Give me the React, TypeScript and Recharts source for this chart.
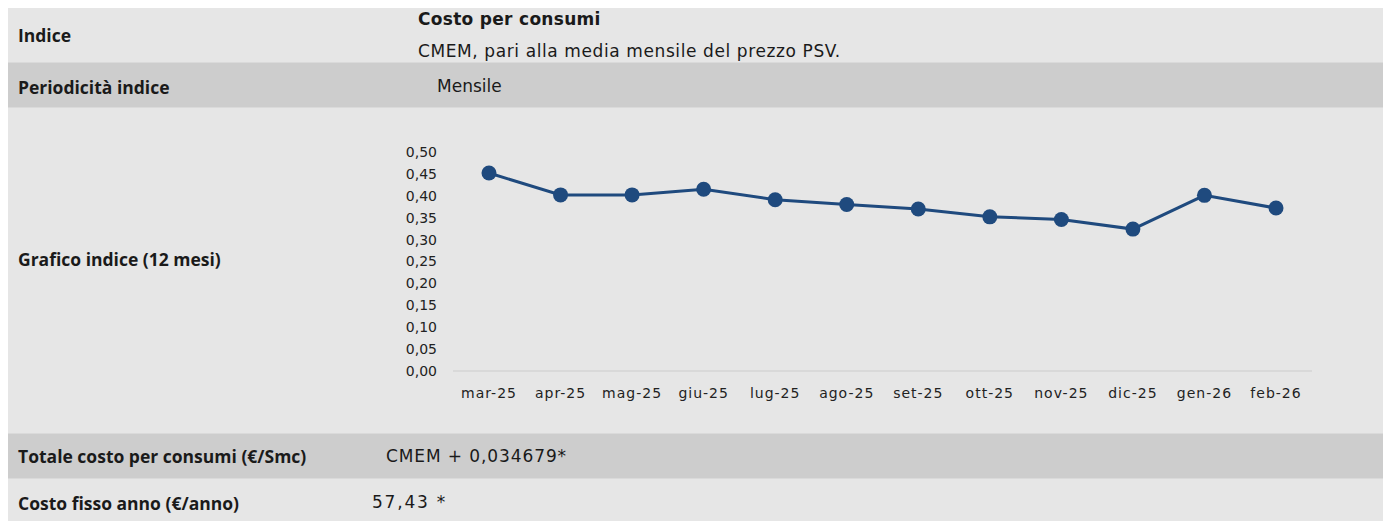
import { LineChart, Line, XAxis, YAxis } from 'recharts'

const months = ['mar-25', 'apr-25', 'mag-25', 'giu-25', 'lug-25', 'ago-25', 'set-25', 'ott-25', 'nov-25', 'dic-25', 'gen-26', 'feb-26']
const cmem = [0.452, 0.402, 0.402, 0.415, 0.391, 0.38, 0.37, 0.352, 0.346, 0.324, 0.401, 0.372]
const yTicks = [0, 0.05, 0.1, 0.15, 0.2, 0.25, 0.3, 0.35, 0.4, 0.45, 0.5]

const data = months.map((m, i) => ({ name: m, value: cmem[i] }))

const LIGHT = '#e6e6e6'
const DARK = '#cdcdcd'
const labelFont = '"Open Sans", sans-serif'
const valueFont = '"DejaVu Sans", sans-serif'
const yTickStyle = { fill: '#222', fontSize: 14, fontFamily: valueFont }
const xTickStyle = { ...yTickStyle, letterSpacing: 1 }

const fmt = (v: number) => v.toFixed(2).replace('.', ',')

function Row({ bg, height, label, labelShift = 0, children }: { bg: string; height: number; label: string; labelShift?: number; children?: any }) {
  return (
    <div style={{ position: 'relative', background: bg, height, borderBottom: '1px solid #dadada', boxSizing: 'border-box' }}>
      <div
        style={{
          position: 'absolute',
          left: 10,
          top: labelShift,
          height: '100%',
          display: 'flex',
          alignItems: 'center',
          fontFamily: labelFont,
          fontWeight: 700,
          fontSize: 17.5,
          color: '#1a1a1a',
        }}
      >
        {label}
      </div>
      {children}
    </div>
  )
}

export default function App() {
  const valueStyle = {
    position: 'absolute' as const,
    fontFamily: valueFont,
    fontSize: 17,
    letterSpacing: 0.6,
    color: '#1a1a1a',
    whiteSpace: 'nowrap' as const,
  }
  return (
    <div style={{ width: 1383, marginTop: -1 }}>
      <Row bg={LIGHT} height={56} label="Indice">
        <div style={{ ...valueStyle, left: 410, top: 2, fontWeight: 700, letterSpacing: 0.3 }}>Costo per consumi</div>
        <div style={{ ...valueStyle, left: 410, top: 34 }}>CMEM, pari alla media mensile del prezzo PSV.</div>
      </Row>
      <Row bg={DARK} height={45} label="Periodicità indice" labelShift={2}>
        <div style={{ ...valueStyle, left: 429, top: 13, letterSpacing: 0 }}>Mensile</div>
      </Row>
      <Row bg={LIGHT} height={326} label="Grafico indice (12 mesi)" labelShift={-12}>
        <div style={{ position: 'absolute', left: 352, top: 12 }}>
          <LineChart width={970} height={300} data={data} margin={{ top: 32, right: 18, left: 0, bottom: 0 }}>
            <XAxis
              dataKey="name"
              axisLine={{ stroke: '#d9d9d9', strokeWidth: 2 }}
              tickLine={false}
              tick={xTickStyle}
              tickMargin={11}
              interval={0}
              height={49}
              padding={{ left: 36, right: 36 }}
            />
            <YAxis
              domain={[0, 0.5]}
              ticks={yTicks}
              tickFormatter={fmt}
              axisLine={false}
              tickLine={false}
              tick={yTickStyle}
              tickMargin={10}
              width={93}
              interval={0}
            />
            <Line
              type="linear"
              dataKey="value"
              stroke="#1f4a7e"
              strokeWidth={3}
              dot={{ r: 7.5, fill: '#1f4a7e', stroke: '#1f4a7e', strokeWidth: 0 }}
              isAnimationActive={false}
            />
          </LineChart>
        </div>
      </Row>
      <Row bg={DARK} height={45} label="Totale costo per consumi (€/Smc)">
        <div style={{ ...valueStyle, left: 378, top: 12, letterSpacing: 0.9 }}>CMEM + 0,034679*</div>
      </Row>
      <Row bg={LIGHT} height={50} label="Costo fisso anno (€/anno)" labelShift={-1}>
        <div style={{ ...valueStyle, left: 364, top: 13, letterSpacing: 1.8 }}>57,43 *</div>
      </Row>
    </div>
  )
}
